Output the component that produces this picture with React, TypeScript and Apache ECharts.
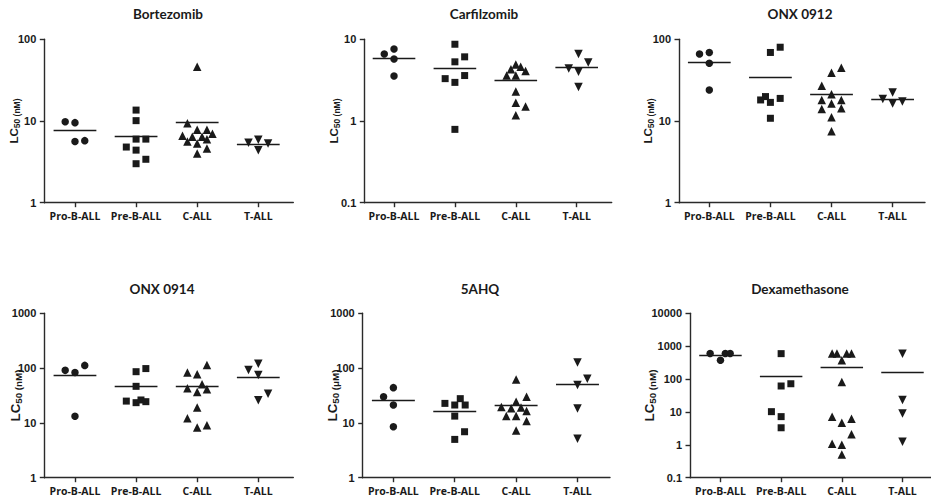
import React, { useEffect, useRef } from 'react';
import * as echarts from 'echarts';

const CATEGORIES = ['Pro-B-ALL', 'Pre-B-ALL', 'C-ALL', 'T-ALL'];
const TITLES = ['Bortezomib', 'Carfilzomib', 'ONX 0912', 'ONX 0914', '5AHQ', 'Dexamethasone'];
const UNITS = ['nM', 'nM', 'nM', 'nM', 'μM', 'nM'];
const Y_MIN = [1, 0.1, 1, 1, 1, 0.1];
const Y_MAX = [100, 10, 100, 1000, 1000, 10000];

// LC50 values per category (Pro-B-ALL, Pre-B-ALL, C-ALL, T-ALL)
const bortezomib = [
  [9.8, 9.55, 5.6, 5.75],
  [13.6, 10.1, 6.0, 6.0, 4.8, 4.4, 3.4, 3.0],
  [46, 9.4, 7.8, 7.8, 6.6, 6.4, 6.4, 7.0, 5.6, 5.3, 6.0, 4.6, 4.0],
  [5.4, 5.9, 5.3, 4.4],
];
const carfilzomib = [
  [6.6, 7.6, 5.75, 3.55],
  [8.7, 6.1, 5.3, 3.3, 3.6, 2.97, 0.79],
  [4.9, 4.6, 4.3, 4.1, 3.6, 3.6, 2.3, 1.67, 1.5, 1.18],
  [6.6, 4.4, 5.2, 4.0, 2.6],
];
const onx0912 = [
  [66, 69, 51, 24],
  [69, 80, 18.1, 19.9, 18.9, 16.9, 10.8],
  [45, 39, 27, 21.2, 18.1, 18.1, 16.4, 14, 14.3, 11.1, 7.5],
  [18.6, 22.4, 16.4, 17.3],
];
const onx0914 = [
  [91, 83, 112, 13.2],
  [86, 98, 46.5, 25, 23.4, 26.2, 24.4],
  [114, 83, 77, 50.6, 42.8, 41, 36.6, 19, 12.1, 8.2, 9.1],
  [92, 120, 75, 34, 25.8],
];
const ahq5 = [
  [44, 30, 21.2, 8.5],
  [22.7, 27.7, 21.2, 21.2, 13.3, 6.9, 5.0],
  [62, 30, 24.4, 19.5, 19, 18.5, 16.5, 13.3, 13.3, 10.8, 7.3],
  [126, 64, 49, 18.4, 5.15],
];
const dexamethasone = [
  [600, 372, 600, 600],
  [593, 72, 61.5, 10.2, 7.2, 3.3],
  [600, 600, 600, 600, 372, 81.5, 7.2, 6.2, 4.7, 2.08, 1.08, 1.0, 0.51],
  [593, 23, 8.9, 1.24],
];

// mean lines per category
const bortezomibMeans = [7.7, 6.43, 9.55, 5.17];
const carfilzomibMeans = [5.9, 4.42, 3.18, 4.5];
const onx0912Means = [52.3, 33.9, 21.2, 18.4];
const onx0914Means = [74.8, 47, 45.8, 67.8];
const ahq5Means = [25.8, 16.5, 21.2, 50.6];
const dexamethasoneMeans = [540, 124, 222, 157];

// horizontal scatter offsets (fraction of category spacing)
const bortezomibJitter = [
  [-0.16, 0, 0, 0.16],
  [0, 0, 0, 0.16, -0.16, 0, 0.16, 0],
  [0, -0.16, 0, 0.16, -0.24, -0.08, 0.08, 0.25, -0.16, 0, 0.16, 0.16, 0],
  [-0.16, 0, 0.16, 0],
];
const carfilzomibJitter = [
  [-0.16, 0, 0, 0],
  [0, 0.16, 0, -0.16, 0.16, 0, 0],
  [0, 0.08, -0.08, 0.16, -0.15, 0, 0, 0, 0.16, 0],
  [0.03, -0.13, 0.19, 0.03, 0.03],
];
const onx0912Jitter = [
  [-0.16, 0, 0, 0],
  [0, 0.16, -0.16, -0.08, 0.16, 0, 0],
  [0.16, 0, -0.16, 0, -0.16, 0.16, 0, -0.16, 0.16, 0, 0],
  [-0.16, 0, 0, 0.16],
];
const onx0914Jitter = [
  [-0.16, 0, 0.16, 0],
  [0, 0.16, 0, -0.16, 0, 0.08, 0.16],
  [0.16, -0.16, 0, 0.08, -0.16, 0.16, 0, 0, -0.16, 0, 0.16],
  [-0.16, 0, 0, 0.16, 0],
];
const ahq5Jitter = [
  [0, -0.16, 0, 0],
  [-0.16, 0.09, 0, 0.17, 0, 0.16, 0],
  [0, 0.17, 0, -0.24, 0.08, -0.08, 0.17, -0.16, 0, 0.17, 0],
  [0, 0.16, 0, 0, 0],
];
const dexamethasoneJitter = [
  [-0.17, 0, 0.08, 0.16],
  [0, 0.16, 0, -0.16, 0, 0],
  [-0.16, -0.08, 0.08, 0.16, 0, 0, -0.16, 0.16, 0, 0.16, -0.16, 0, 0],
  [0, 0, 0, 0],
];

const PANEL_VALUES = [bortezomib, carfilzomib, onx0912, onx0914, ahq5, dexamethasone];
const PANEL_MEANS = [bortezomibMeans, carfilzomibMeans, onx0912Means, onx0914Means, ahq5Means, dexamethasoneMeans];
const PANEL_JITTER = [bortezomibJitter, carfilzomibJitter, onx0912Jitter, onx0914Jitter, ahq5Jitter, dexamethasoneJitter];

// layout (pixels)
const LAYOUT = [
  { left: 44.3, top: 39.3, width: 249, height: 163.4, xMin: 0.498, xMax: 4.573, nameX: 14, nameScale: 1, titleX: 168, titleY: 14 },
  { left: 364.3, top: 39.3, width: 247.4, height: 163.4, xMin: 0.512, xMax: 4.575, nameX: 334, nameScale: 1, titleX: 484, titleY: 14 },
  { left: 679, top: 39.3, width: 246, height: 163.4, xMin: 0.504, xMax: 4.53, nameX: 648, nameScale: 1, titleX: 800, titleY: 14 },
  { left: 44.3, top: 313.3, width: 249, height: 164.4, xMin: 0.498, xMax: 4.573, nameX: 15.5, nameScale: 1.15, titleX: 162, titleY: 289 },
  { left: 362.7, top: 313.3, width: 247.3, height: 164.4, xMin: 0.5, xMax: 4.53, nameX: 332, nameScale: 1.15, titleX: 480, titleY: 289 },
  { left: 690, top: 313.3, width: 243, height: 164.4, xMin: 0.498, xMax: 4.47, nameX: 649, nameScale: 1.15, titleX: 800, titleY: 289 },
];

const SYMBOLS = ['circle', 'rect', 'triangle', 'triangle'];
const SYMBOL_ROTATE = [0, 0, 0, 180];
const SYMBOL_SIZE = [7.5, 7, 8.5, 8.5];
const INK = '#1a1a1a';
const AXIS_COLOR = '#2a2a2a';

function fmt(v: number) {
  return String(+Number(v).toPrecision(6));
}

export default function App() {
  const ref = useRef<HTMLDivElement>(null);
  useEffect(() => {
    if (!ref.current) return;
    const chart = echarts.init(ref.current, undefined, { renderer: 'svg' });
    const grid: any[] = [];
    const xAxis: any[] = [];
    const yAxis: any[] = [];
    const series: any[] = [];
    const graphic: any[] = [];

    LAYOUT.forEach((L, p) => {
      grid.push({ left: L.left, top: L.top, width: L.width, height: L.height, containLabel: false });
      xAxis.push({
        type: 'value',
        gridIndex: p,
        min: L.xMin,
        max: L.xMax,
        splitLine: { show: false },
        axisLine: { show: true, onZero: false, lineStyle: { color: AXIS_COLOR, width: 1.4 } },
        axisTick: { show: true, customValues: [1, 2, 3, 4], length: 4.5, lineStyle: { color: AXIS_COLOR, width: 1.4 } },
        axisLabel: {
          customValues: [1, 2, 3, 4],
          formatter: (v: number) => CATEGORIES[Math.round(v) - 1] || '',
          margin: 8,
          color: INK,
          fontFamily: 'Open Sans',
          fontWeight: 'bold',
          fontSize: 10.5,
        },
      });
      yAxis.push({
        type: 'log',
        logBase: 10,
        gridIndex: p,
        min: Y_MIN[p],
        max: Y_MAX[p],
        splitLine: { show: false },
        minorTick: { show: false },
        axisLine: { show: true, onZero: false, lineStyle: { color: AXIS_COLOR, width: 1.4 } },
        axisTick: { show: true, length: 4.5, lineStyle: { color: AXIS_COLOR, width: 1.4 } },
        axisLabel: {
          formatter: fmt,
          margin: 8,
          color: INK,
          fontFamily: 'Liberation Sans',
          fontWeight: 'bold',
          fontSize: 11,
        },
      });

      const values = PANEL_VALUES[p];
      const jitter = PANEL_JITTER[p];
      values.forEach((group, g) => {
        series.push({
          type: 'scatter',
          xAxisIndex: p,
          yAxisIndex: p,
          symbol: SYMBOLS[g],
          symbolRotate: SYMBOL_ROTATE[g],
          symbolSize: SYMBOL_SIZE[g],
          itemStyle: { color: INK, opacity: 1 },
          clip: false,
          data: group.map((v, k) => [g + 1 + (jitter[g][k] || 0), v]),
        });
      });
      series.push({
        type: 'lines',
        coordinateSystem: 'cartesian2d',
        xAxisIndex: p,
        yAxisIndex: p,
        lineStyle: { color: INK, width: 1.4, opacity: 1 },
        data: PANEL_MEANS[p].map((m, g) => ({ coords: [[g + 1 - 0.35, m], [g + 1 + 0.35, m]] })),
      });

      graphic.push({
        type: 'text',
        x: L.titleX,
        y: L.titleY,
        style: {
          text: TITLES[p],
          font: 'bold 13.5px Lato',
          fill: INK,
          textAlign: 'center',
          textVerticalAlign: 'middle',
        },
      });
      const s = L.nameScale;
      graphic.push({
        type: 'text',
        x: L.nameX,
        y: L.top + L.height / 2,
        rotation: Math.PI / 2,
        style: {
          text: `{a|LC}{b|50}{c| (${UNITS[p]})}`,
          textAlign: 'center',
          textVerticalAlign: 'middle',
          rich: {
            a: { fontFamily: 'Liberation Sans', fontWeight: 'bold', fontSize: 11.5 * s, fill: INK, lineHeight: 14 * s },
            b: { fontFamily: 'Liberation Sans', fontWeight: 'bold', fontSize: 8.5 * s, fill: INK, verticalAlign: 'bottom', lineHeight: 14 * s },
            c: { fontFamily: 'Liberation Sans', fontWeight: 'bold', fontSize: 8.5 * s, fill: INK, verticalAlign: 'bottom', lineHeight: 14 * s },
          },
        },
      });
    });

    chart.setOption({
      animation: false,
      backgroundColor: '#ffffff',
      grid,
      xAxis,
      yAxis,
      series,
      graphic,
    });
    return () => chart.dispose();
  }, []);
  return <div ref={ref} style={{ position: 'fixed', left: 0, top: 0, width: 931, height: 502 }} />;
}
